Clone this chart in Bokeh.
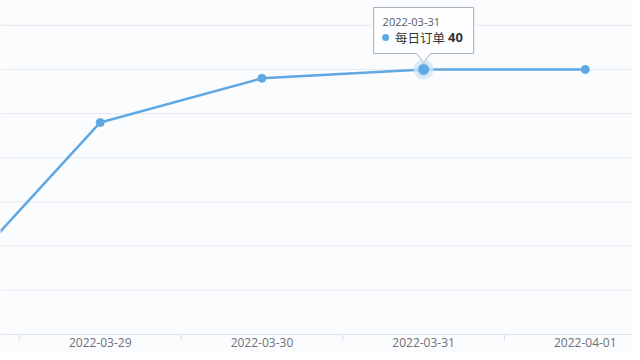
from bokeh.plotting import figure
from bokeh.models import Range1d, ColumnDataSource
from bokeh.core.properties import value
from bokeh.embed import file_html
from bokeh.resources import INLINE

# ---- data ----
dates = ["2022-03-28", "2022-03-29", "2022-03-30", "2022-03-31", "2022-04-01"]
orders = [14, 34, 39, 40, 40]
series_name = "每日订单"
highlight_index = 3
y_axis_min = 10
y_grid_values = [15, 20, 25, 30, 35, 40, 45]

idx = list(range(len(dates)))

LINE = "#5fa8e3"
BG = "#fbfcfe"
GRID = "#e6eaf1"
AXIS = "#d9dfea"

W, H = 632, 352
x0, x1 = 0.383, 4.292
y0, y1 = 7.95, 47.81

p = figure(width=W, height=H, output_backend="svg", toolbar_location=None,
           x_range=Range1d(x0, x1), y_range=Range1d(y0, y1),
           x_axis_location=None, y_axis_location=None, min_border=0)
p.background_fill_color = BG
p.border_fill_color = BG
p.outline_line_color = None
p.grid.visible = False

sx = W / (x1 - x0)   # px per x unit
sy = H / (y1 - y0)   # px per y unit

# horizontal grid lines
p.segment(x0=[x0] * len(y_grid_values), x1=[x1] * len(y_grid_values),
          y0=y_grid_values, y1=y_grid_values, line_color=GRID, line_width=1)

# category axis: line, boundary ticks, labels (only categories in view)
p.segment(x0=[x0], x1=[x1], y0=[y_axis_min], y1=[y_axis_min], line_color=AXIS, line_width=1)
bounds = [i - 0.5 for i in idx] + [idx[-1] + 0.5]
p.segment(x0=bounds, x1=bounds, y0=[y_axis_min] * len(bounds),
          y1=[y_axis_min - 6 / sy] * len(bounds), line_color=AXIS, line_width=1)
vis = [i for i in idx if x0 < i < x1]
p.text(x=vis, y=[y_axis_min - 8 / sy] * len(vis), text=[dates[i] for i in vis],
       text_font=value("Open Sans"), text_font_size="12px", text_color="#6e7079",
       text_align="center", text_baseline="middle")

src = ColumnDataSource(dict(x=idx, y=orders))
p.line("x", "y", source=src, line_color=LINE, line_width=2.5)
p.scatter("x", "y", source=src, size=8, fill_color=LINE, line_color=LINE)

# highlighted point
hx, hy = idx[highlight_index], orders[highlight_index]
p.scatter([hx], [hy], size=20, fill_color="#cfe3f6", line_color=None, fill_alpha=0.8)
p.scatter([hx], [hy], size=11, fill_color=LINE, line_color="#8cc2ee", line_width=1)

# tooltip (px offsets converted to data units)
def dx(px):
    return hx + px / sx
def dy(px):
    return hy - px / sy  # px positive = downward

L, R, T, B = -50, 50, -62, -16
tip = -7
aw = 7
px_pts = [(L, T), (R, T), (R, B), (aw, B), (0, tip), (-aw, B), (L, B)]
p.patch([dx(a) for a, b in px_pts], [dy(b) for a, b in px_pts],
        fill_color="#fdfeff", fill_alpha=0.97, line_color="#a7b0bb", line_width=1)

p.text([dx(-41)], [dy(-47)], text=[dates[highlight_index]], text_font=value("Open Sans"),
       text_font_size="11px", text_color="#555b63", text_baseline="middle", text_align="left")
p.scatter([dx(-38)], [dy(-32)], size=7, fill_color=LINE, line_color=None)
p.text([dx(-28.5)], [dy(-32)], text=[series_name], text_font=value("Noto Sans CJK SC"),
       text_font_size="12.5px", text_color="#333333", text_baseline="middle", text_align="left")
p.text([dx(24.5)], [dy(-32)], text=[str(orders[highlight_index])], text_font=value("Open Sans"),
       text_font_size="13px", text_font_style="bold", text_color="#333333",
       text_baseline="middle", text_align="left")

open("out.html", "w").write(file_html(p, INLINE))
